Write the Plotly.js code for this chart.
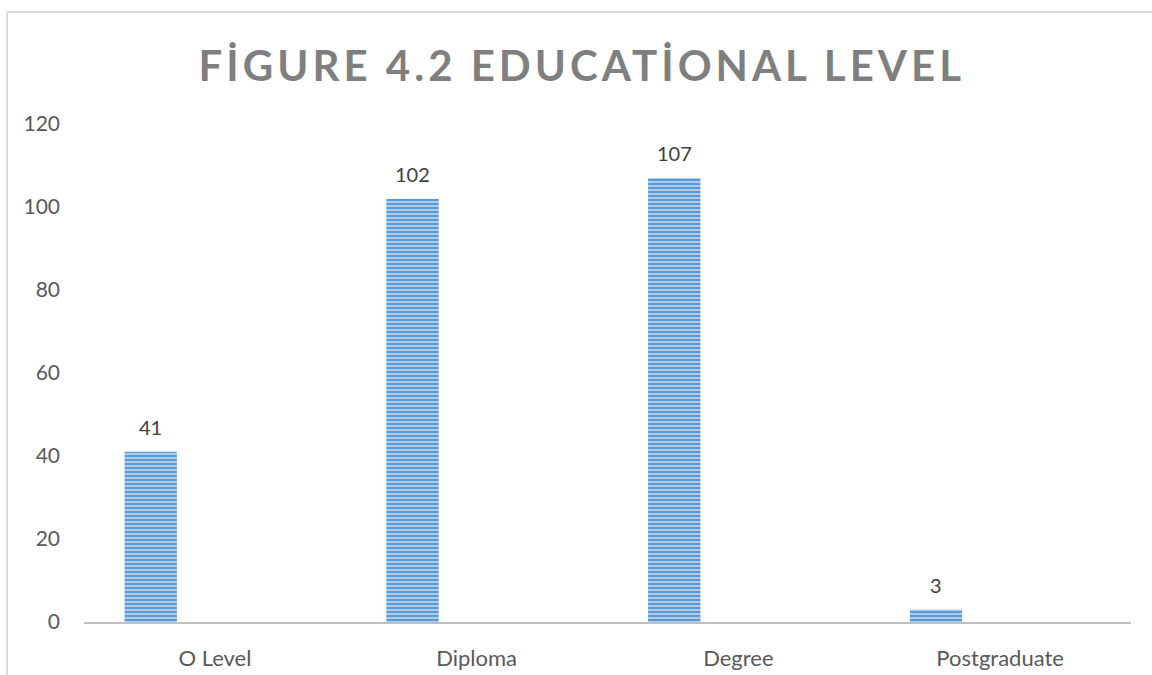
<!DOCTYPE html>
<html>
<head>
<meta charset="utf-8">
<script src="https://cdn.plot.ly/plotly-3.0.1.min.js"></script>
<style>
html,body{margin:0;padding:0;background:#fff;}
#chart{width:1152px;height:675px;}
</style>
</head>
<body>
<div id="chart"></div>
<script>
const chartTitle = "FİGURE 4.2 EDUCATİONAL LEVEL";
const categories = ["O Level", "Diploma", "Degree", "Postgraduate"];
const counts = [41, 102, 107, 3];
const yTicks = [0, 20, 40, 60, 80, 100, 120];

const W = 1152, H = 675;
const M = {l: 84, r: 21, t: 124, b: 53};
const pw = W - M.l - M.r, ph = H - M.t - M.b;
const px2x = p => (p - M.l) / pw;
const py2y = p => (H - M.b - p) / ph;

const BAR_W = 0.2, BAR_OFF = -0.345;

const trace = {
  type: "bar",
  x: categories,
  y: counts,
  width: BAR_W,
  offset: BAR_OFF,
  marker: {
    color: "#5b9bd5",
    line: {width: 0},
    pattern: {shape: "-", bgcolor: "#5b9bd5", fgcolor: "#cfe1f3", size: 4, solidity: 0.35}
  },
  hoverinfo: "x+y"
};

const labelAnnotations = counts.map((v, i) => ({
  xref: "x", yref: "y",
  x: i + BAR_OFF + BAR_W / 2,
  y: v,
  text: String(v),
  showarrow: false,
  xanchor: "center", yanchor: "bottom",
  yshift: 11,
  font: {family: "Lato, sans-serif", size: 20, color: "#404040"}
}));

const layout = {
  width: W, height: H,
  margin: M,
  paper_bgcolor: "#fff",
  plot_bgcolor: "#fff",
  showlegend: false,
  title: {
    text: chartTitle,
    font: {family: "Lato, sans-serif", size: 42, color: "#7f7f7f", weight: "bold"},
    xref: "container", x: 0.505, xanchor: "center",
    yref: "container", y: 1 - 66/675, yanchor: "middle"
  },
  xaxis: {
    type: "category",
    range: [-0.5, categories.length - 0.5],
    showgrid: false, zeroline: false,
    showline: true, linecolor: "#bfbfbf", linewidth: 2,
    ticks: "", ticklabelstandoff: 16,
    tickfont: {family: "Lato, sans-serif", size: 22, color: "#595959"}
  },
  yaxis: {
    range: [0, 120],
    tickvals: yTicks,
    ticktext: yTicks.map(String),
    showgrid: false, zeroline: false, showline: false,
    ticks: "", ticklabelstandoff: 23,
    tickfont: {family: "Lato, sans-serif", size: 21, color: "#595959"}
  },
  annotations: labelAnnotations,
  shapes: [
    {type: "line", xref: "paper", yref: "paper", x0: px2x(7), x1: px2x(1160), y0: py2y(12), y1: py2y(12), line: {color: "#d9d9d9", width: 2}},
    {type: "line", xref: "paper", yref: "paper", x0: px2x(7), x1: px2x(7), y0: py2y(12), y1: py2y(680), line: {color: "#d9d9d9", width: 2}}
  ]
};

Plotly.newPlot("chart", [trace], layout, {displayModeBar: false, staticPlot: true}).then(gd => {
  const t = gd.querySelector(".gtitle");
  if (t) { t.style.letterSpacing = "4px"; }
});
</script>
</body>
</html>
